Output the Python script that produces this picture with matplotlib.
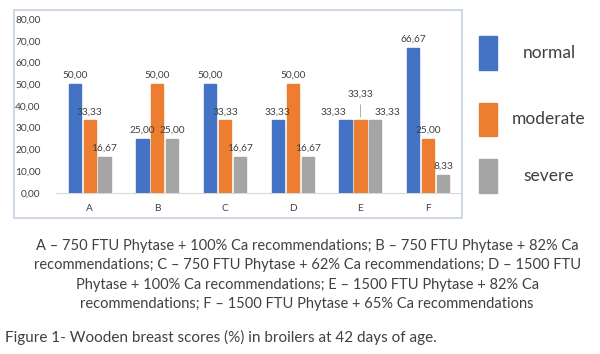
import matplotlib.pyplot as plt
from matplotlib.patches import Rectangle

plt.rcParams['font.family'] = ['Lato', 'DejaVu Sans']

# Dados
grupos = ['A', 'B', 'C', 'D', 'E', 'F']
series = ['normal', 'moderate', 'severe']
normal = [50.00, 25.00, 50.00, 33.33, 33.33, 66.67]
moderate = [33.33, 50.00, 33.33, 50.00, 33.33, 25.00]
severe = [16.67, 25.00, 16.67, 16.67, 33.33, 8.33]
cores = ['#4472C4', '#ED7D31', '#A5A5A5']

legenda_texto = ('A – 750 FTU Phytase + 100% Ca recommendations; B – 750 FTU Phytase + 82% Ca\n'
                 'recommendations; C – 750 FTU Phytase + 62% Ca recommendations; D – 1500 FTU\n'
                 'Phytase + 100% Ca recommendations; E – 1500 FTU Phytase + 82% Ca\n'
                 'recommendations; F – 1500 FTU Phytase + 65% Ca recommendations')
titulo = 'Figure 1- Wooden breast scores (%) in broilers at 42 days of age.'

fig = plt.figure(figsize=(6, 3.54), dpi=100)
ax = fig.add_axes([0.093, 0.455, 0.677, 0.4915])

# moldura do gráfico
fig.patches.append(Rectangle((0.0233, 0.384), 0.747, 0.588, transform=fig.transFigure,
                             fill=False, edgecolor='#c5d0e3', linewidth=1.2))

largura = 0.18
passo = 0.22
valores = [normal, moderate, severe]
x = list(range(len(grupos)))
for i, (nome, vals, cor) in enumerate(zip(series, valores, cores)):
    pos = [xi + (i - 1) * passo for xi in x]
    barras = ax.bar(pos, vals, width=largura, color=cor, edgecolor=cor, zorder=3)
    for j, (b, v) in enumerate(zip(barras, vals)):
        dx, dy = 0, 3
        if grupos[j] == 'E':
            dx = [-9, 0, 9][i]
            dy = [3, 16, 3][i]
        rotulo = f'{v:.2f}'.replace('.', ',')
        ax.annotate(rotulo, (b.get_x() + b.get_width() / 2, v), xytext=(dx, dy),
                    textcoords='offset points', ha='center', va='bottom',
                    fontsize=7.3, color='#404040', zorder=4)
        if grupos[j] == 'E' and i == 1:
            ax.annotate('', (b.get_x() + b.get_width() / 2, v + 0.3),
                        xytext=(b.get_x() + b.get_width() / 2, v + 8.5),
                        arrowprops=dict(arrowstyle='-', color='#a0a0a0', lw=0.6))

ax.set_xlim(-0.5, 5.5)
ax.set_ylim(0, 80)
ax.set_yticks(range(0, 81, 10))
ax.set_yticklabels([f'{t:.2f}'.replace('.', ',') for t in range(0, 81, 10)])
ax.set_xticks(x)
ax.set_xticklabels(grupos)
ax.tick_params(axis='both', length=0, labelsize=7.3, labelcolor='#404040')
ax.tick_params(axis='x', pad=8)
ax.tick_params(axis='y', pad=11)
for lado in ['top', 'right', 'left']:
    ax.spines[lado].set_visible(False)
ax.spines['bottom'].set_color('#d9d9d9')

# legenda à direita
ys = [0.85, 0.663, 0.503]
for nome, cor, yc in zip(series, cores, ys):
    fig.patches.append(Rectangle((0.798, yc - 0.047), 0.03, 0.094, transform=fig.transFigure,
                                 facecolor=cor, edgecolor=cor))
    fig.text(0.915, yc, nome, ha='center', va='center', fontsize=12.5, color='#404040')

fig.text(0.512, 0.223, legenda_texto, ha='center', va='center', fontsize=10.5,
         color='#404040', linespacing=1.5)
fig.text(0.008, 0.048, titulo, ha='left', va='center', fontsize=11, color='#404040')

fig.savefig('out.png', dpi=100, facecolor='white')
